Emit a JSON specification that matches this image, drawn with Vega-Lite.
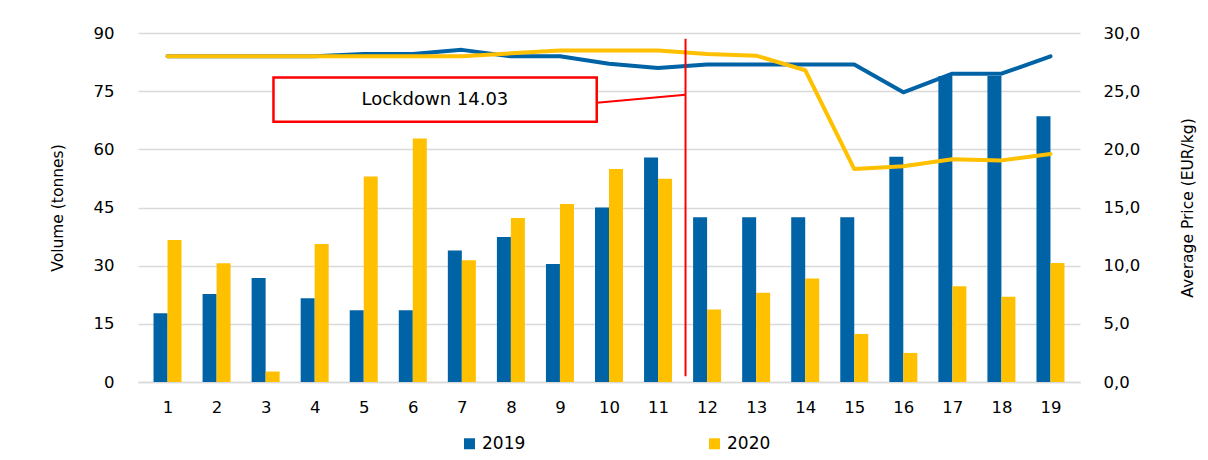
{
  "$schema": "https://vega.github.io/schema/vega-lite/v6.json",
  "width": 942,
  "height": 349,
  "autosize": {"type": "none"},
  "padding": {"left": 138, "top": 33, "right": 128, "bottom": 78},
  "background": "white",
  "config": {
    "font": "DejaVu Sans",
    "view": {"stroke": null},
    "axis": {"labelFont": "DejaVu Sans", "titleFont": "DejaVu Sans", "labelColor": "#000000", "titleColor": "#000000", "titleFontWeight": "normal", "domain": false, "ticks": false}
  },
  "datasets": {
    "main": [
      {"week": 1, "year": "2019", "volume": 17.7, "price": 28.0},
      {"week": 2, "year": "2019", "volume": 22.7, "price": 28.0},
      {"week": 3, "year": "2019", "volume": 26.8, "price": 28.0},
      {"week": 4, "year": "2019", "volume": 21.6, "price": 28.0},
      {"week": 5, "year": "2019", "volume": 18.5, "price": 28.2},
      {"week": 6, "year": "2019", "volume": 18.5, "price": 28.2},
      {"week": 7, "year": "2019", "volume": 33.9, "price": 28.55},
      {"week": 8, "year": "2019", "volume": 37.4, "price": 28.0},
      {"week": 9, "year": "2019", "volume": 30.4, "price": 28.0},
      {"week": 10, "year": "2019", "volume": 45.0, "price": 27.35},
      {"week": 11, "year": "2019", "volume": 57.9, "price": 27.0},
      {"week": 12, "year": "2019", "volume": 42.5, "price": 27.3},
      {"week": 13, "year": "2019", "volume": 42.5, "price": 27.3},
      {"week": 14, "year": "2019", "volume": 42.5, "price": 27.3},
      {"week": 15, "year": "2019", "volume": 42.5, "price": 27.3},
      {"week": 16, "year": "2019", "volume": 58.1, "price": 24.9},
      {"week": 17, "year": "2019", "volume": 78.9, "price": 26.5},
      {"week": 18, "year": "2019", "volume": 78.9, "price": 26.5},
      {"week": 19, "year": "2019", "volume": 68.5, "price": 28.0},
      {"week": 1, "year": "2020", "volume": 36.6, "price": 28.0},
      {"week": 2, "year": "2020", "volume": 30.6, "price": 28.0},
      {"week": 3, "year": "2020", "volume": 2.7, "price": 28.0},
      {"week": 4, "year": "2020", "volume": 35.6, "price": 28.0},
      {"week": 5, "year": "2020", "volume": 53.0, "price": 28.0},
      {"week": 6, "year": "2020", "volume": 62.8, "price": 28.0},
      {"week": 7, "year": "2020", "volume": 31.4, "price": 28.0},
      {"week": 8, "year": "2020", "volume": 42.3, "price": 28.25},
      {"week": 9, "year": "2020", "volume": 45.9, "price": 28.5},
      {"week": 10, "year": "2020", "volume": 54.9, "price": 28.5},
      {"week": 11, "year": "2020", "volume": 52.4, "price": 28.5},
      {"week": 12, "year": "2020", "volume": 18.7, "price": 28.2},
      {"week": 13, "year": "2020", "volume": 23.0, "price": 28.05},
      {"week": 14, "year": "2020", "volume": 26.7, "price": 26.8},
      {"week": 15, "year": "2020", "volume": 12.4, "price": 18.3},
      {"week": 16, "year": "2020", "volume": 7.5, "price": 18.55},
      {"week": 17, "year": "2020", "volume": 24.7, "price": 19.15},
      {"week": 18, "year": "2020", "volume": 22.0, "price": 19.05},
      {"week": 19, "year": "2020", "volume": 30.7, "price": 19.6}
    ],
    "lockdown": [
      {"pos": 11.56, "low": 1.5, "high": 88.5}
    ],
    "connector": [
      {"from": 9.75, "to": 11.56, "yfrom": 72.0, "yto": 74.1}
    ],
    "box": [
      {"left": 3.16, "right": 9.75, "bottom": 67.1, "top": 78.5, "cx": 6.45, "cy": 72.8, "label": "Lockdown 14.03"}
    ]
  },
  "layer": [
    {
      "data": {"name": "main"},
      "layer": [
        {
          "transform": [{"filter": "datum.year == '2019'"}],
          "mark": {"type": "bar", "width": 14, "xOffset": -7},
          "encoding": {
            "x": {"field": "week", "type": "quantitative", "title": null, "scale": {"domain": [0.5, 19.5], "nice": false, "zero": false},
                  "axis": {"values": [1,2,3,4,5,6,7,8,9,10,11,12,13,14,15,16,17,18,19], "format": "d", "grid": false, "title": null, "labelFontSize": 16.5, "labelPadding": 17, "domain": true, "domainColor": "#D9D9D9", "domainWidth": 1.5}},
            "y": {"field": "volume", "type": "quantitative", "scale": {"domain": [0, 90], "nice": false},
                  "axis": {"values": [0,15,30,45,60,75,90], "grid": true, "gridColor": "#D9D9D9", "gridWidth": 1.5, "title": "Volume (tonnes)", "titleFontSize": 15.5, "labelFontSize": 16.5, "labelPadding": 24, "titlePadding": 28}},
            "color": {"field": "year", "type": "nominal", "scale": {"domain": ["2019", "2020"], "range": ["#0063A6", "#FFC000"]},
                      "legend": {"orient": "none", "legendX": 323, "legendY": 402, "title": null, "direction": "horizontal", "symbolType": "square", "symbolSize": 121, "labelFontSize": 17, "labelFont": "DejaVu Sans", "labelColor": "#000000", "columnPadding": 180, "symbolStrokeWidth": 0, "labelOffset": 4}}
          }
        },
        {
          "transform": [{"filter": "datum.year == '2020'"}],
          "mark": {"type": "bar", "width": 14, "xOffset": 7},
          "encoding": {
            "x": {"field": "week", "type": "quantitative", "title": null, "scale": {"domain": [0.5, 19.5], "nice": false, "zero": false}},
            "y": {"field": "volume", "type": "quantitative", "scale": {"domain": [0, 90], "nice": false}},
            "color": {"field": "year", "type": "nominal", "scale": {"domain": ["2019", "2020"], "range": ["#0063A6", "#FFC000"]}}
          }
        }
      ]
    },
    {
      "data": {"name": "main"},
      "mark": {"type": "line", "strokeWidth": 4, "strokeCap": "round", "strokeJoin": "round"},
      "encoding": {
        "x": {"field": "week", "type": "quantitative", "title": null, "scale": {"domain": [0.5, 19.5], "nice": false, "zero": false}},
        "y": {"field": "price", "type": "quantitative", "scale": {"domain": [0, 30], "nice": false},
              "axis": {"orient": "right", "values": [0,5,10,15,20,25,30], "labelExpr": "replace(format(datum.value, '.1f'), '.', ',')", "grid": false, "title": "Average Price (EUR/kg)", "titleFontSize": 15.5, "labelFontSize": 16.5, "labelPadding": 23, "titlePadding": 56, "titleAngle": -90}},
        "stroke": {"field": "year", "type": "nominal", "scale": {"domain": ["2019", "2020"], "range": ["#0063A6", "#FFC000"]}, "legend": null},
        "order": {"field": "week", "type": "quantitative"}
      }
    },
    {
      "layer": [
        {
          "data": {"name": "lockdown"},
          "mark": {"type": "rule", "color": "#FF0000", "strokeWidth": 2},
          "encoding": {
            "x": {"field": "pos", "type": "quantitative", "title": null, "scale": {"domain": [0.5, 19.5], "nice": false, "zero": false}},
            "y": {"field": "low", "type": "quantitative", "scale": {"domain": [0, 90], "nice": false}, "axis": null},
            "y2": {"field": "high"}
          }
        },
        {
          "data": {"name": "connector"},
          "mark": {"type": "rule", "color": "#FF0000", "strokeWidth": 2},
          "encoding": {
            "x": {"field": "from", "type": "quantitative", "title": null, "scale": {"domain": [0.5, 19.5], "nice": false, "zero": false}},
            "x2": {"field": "to"},
            "y": {"field": "yfrom", "type": "quantitative", "scale": {"domain": [0, 90], "nice": false}, "axis": null},
            "y2": {"field": "yto"}
          }
        },
        {
          "data": {"name": "box"},
          "mark": {"type": "rect", "fill": "#FFFFFF", "stroke": "#FF0000", "strokeWidth": 2.5},
          "encoding": {
            "x": {"field": "left", "type": "quantitative", "title": null, "scale": {"domain": [0.5, 19.5], "nice": false, "zero": false}},
            "x2": {"field": "right"},
            "y": {"field": "bottom", "type": "quantitative", "scale": {"domain": [0, 90], "nice": false}, "axis": null},
            "y2": {"field": "top"}
          }
        },
        {
          "data": {"name": "box"},
          "mark": {"type": "text", "fontSize": 18, "font": "DejaVu Sans", "color": "#000000", "align": "center", "baseline": "middle"},
          "encoding": {
            "x": {"field": "cx", "type": "quantitative", "title": null, "scale": {"domain": [0.5, 19.5], "nice": false, "zero": false}},
            "y": {"field": "cy", "type": "quantitative", "scale": {"domain": [0, 90], "nice": false}, "axis": null},
            "text": {"field": "label"}
          }
        }
      ]
    }
  ],
  "resolve": {"scale": {"y": "independent"}}
}
